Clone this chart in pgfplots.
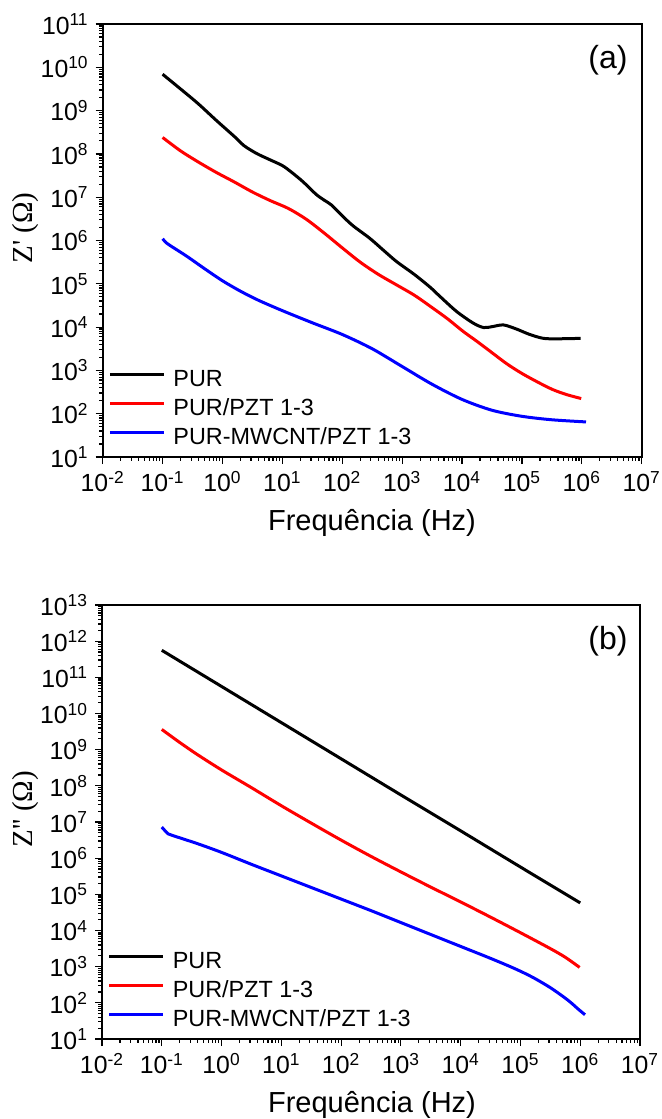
\documentclass[border=0pt]{standalone}
\usepackage{fontspec}
\setmainfont{Liberation Sans}
\newfontfamily\timesfont{Liberation Serif}
\usepackage{pgfplots}
\pgfplotsset{compat=1.18}

% minor ticks 2..9 in every decade
\def\minorlist{1e-3}
\foreach \e in {-2,...,12}{\foreach \m in {2,...,9}{\xdef\minorlist{\minorlist,\m e\e}}}

\pgfplotsset{
  impstyle/.style={
    scale only axis,
    xmin=1e-2, xmax=1e7,
    xtick={1e-2,1e-1,1,1e1,1e2,1e3,1e4,1e5,1e6,1e7},
    minor xtick/.expand once={\minorlist},
    minor ytick/.expand once={\minorlist},
    xticklabel={10\textsuperscript{\pgfmathparse{int(round(\tick/ln(10)))}\pgfmathresult}},
    yticklabel={10\textsuperscript{\pgfmathparse{int(round(\tick/ln(10)))}\pgfmathresult}},
    tick pos=left,
    tick align=outside,
    major tick length=3.5pt,
    minor tick length=1.8pt,
    every tick/.style={black, line width=0.6pt},
    axis line style={line width=0.9pt},
    tick label style={font=\fontsize{12.4}{14}\selectfont},
    legend cell align=left,
    legend style={at={(rel axis cs:0.01,0.2055)}, anchor=north west,
      draw=none, fill=none, inner sep=0pt, row sep=0pt,
      font=\fontsize{11.7}{13}\selectfont,
      nodes={inner sep=0pt, text height=9pt, text depth=5.5pt},
      /tikz/every odd column/.append style={column sep=4pt}},
    legend image code/.code={\draw[##1] (0pt,4.2pt) -- (27pt,4.2pt);},
    every axis plot/.append style={line width=1.5pt, smooth, tension=0.5},
  }
}

\begin{document}
\begin{tikzpicture}
\useasboundingbox (0,0) rectangle (331pt,-559.5pt);

% (a) real part
\begin{axis}[xmode=log, ymode=log, impstyle,
  at={(51.35pt,-228.5pt)}, anchor=south west,
  width=269.5pt, height=216.5pt,
  ymin=1e1, ymax=1e11,
  ytick={1e1,1e2,1e3,1e4,1e5,1e6,1e7,1e8,1e9,1e10,1e11},
]
\addplot[black, no marks] coordinates {
(0.1,6.918e9) (0.1995,3.162e9) (0.389,1.462e9) (0.7943,5.888e8) (1.585,2.512e8)
(2.291,1.549e8) (3.715,1.023e8) (6.31,7.244e7) (10,5.37e7) (14.13,3.802e7)
(22.39,2.239e7) (36.31,1.175e7) (50.12,8.511e6) (66.07,6.607e6) (100,3.715e6)
(151.4,2.188e6) (288.4,1.122e6) (501.2,5.754e5) (812.8,3.236e5) (1585,1.66e5)
(2884,8.511e4) (4266,5.129e4) (8128,2.291e4) (15490,1.23e4) (22910,9.772e3)
(31620,1.023e4) (48980,1.122e4) (79430,9.12e3) (134900,6.761e3) (229100,5.495e3)
(398100,5.37e3) (955000,5.495e3)
};
\addlegendentry{PUR}
\addplot[red, no marks] coordinates {
(0.1,2.399e8) (0.1995,1.175e8) (0.3981,6.457e7) (0.7943,3.715e7) (1.585,2.239e7)
(3.162,1.318e7) (6.31,8.318e6) (12.59,5.495e6) (25.12,3.09e6) (50.12,1.479e6)
(100,6.761e5) (199.5,3.162e5) (398.1,1.66e5) (794.3,9.55e4) (1585,5.495e4)
(2884,3.09e4) (5623,1.585e4) (10470,7.943e3) (17780,4.677e3) (30900,2.63e3)
(56230,1.413e3) (1e5,851.1) (177800,549.5) (323600,363.1) (562300,275.4)
(977200,223.9)
};
\addlegendentry{PUR/PZT 1-3}
\addplot[blue, no marks] coordinates {
(0.1,1.096e6) (0.1148,8.913e5) (0.1349,7.586e5) (0.2512,4.365e5) (0.5012,2.239e5)
(1,1.175e5) (1.995,6.761e4) (3.981,4.169e4) (10,2.399e4) (31.62,1.259e4)
(100,6761) (316.2,3162) (1000,1230) (3162,478.6) (1e4,213.8)
(31620,120.2) (1e5,87.1) (316200,72.44) (1.175e6,64.57)
};
\addlegendentry{PUR-MWCNT/PZT 1-3}
\end{axis}

% (b) imaginary part
\begin{axis}[xmode=log, ymode=log, impstyle,
  at={(51pt,-519.5pt)}, anchor=south west,
  width=269pt, height=217pt,
  ymin=1e1, ymax=1e13,
  ytick={1e1,1e2,1e3,1e4,1e5,1e6,1e7,1e8,1e9,1e10,1e11,1e12,1e13},
]
\addplot[black, no marks] coordinates {
(0.1,5.6e11) (1,5.6e10) (10,5.6e9) (100,5.6e8) (1000,5.6e7)
(1e4,5.7e6) (1e5,5.7e5) (1e6,5.8e4)
};
\addlegendentry{PUR}
\addplot[red, no marks] coordinates {
(0.1,3.631e9) (0.1995,1.585e9) (0.3981,7.244e8) (1,2.754e8) (3.162,8.913e7)
(10,2.818e7) (31.62,9.333e6) (100,3.162e6) (316.2,1.122e6) (1000,4.169e5)
(3162,1.585e5) (1e4,6.166e4) (31620,2.344e4) (1e5,8710) (316200,3162)
(562300,1820) (977200,955)
};
\addlegendentry{PUR/PZT 1-3}
\addplot[blue, no marks] coordinates {
(0.1,7.244e6) (0.123,5.012e6) (0.1445,4.365e6) (0.3981,2.512e6) (1,1.445e6)
(3.162,6.761e5) (10,3.236e5) (31.62,1.549e5) (100,7.413e4) (316.2,3.548e4)
(1000,1.66e4) (3162,7762) (1e4,3631) (31620,1698) (79430,891.3)
(158500,512.9) (316200,263) (562300,134.9) (741300,93.33) (891300,70.79)
(1.202e6,46.77)
};
\addlegendentry{PUR-MWCNT/PZT 1-3}
\end{axis}

% labels
\node[rotate=90, font=\timesfont\fontsize{14.5}{17}\selectfont] at (13pt,-114pt) {Z\textquotesingle\ (Ω)};
\node[rotate=90, font=\timesfont\fontsize{14.5}{17}\selectfont] at (13pt,-404.5pt) {Z\textquotesingle\textquotesingle\ (Ω)};
\node[anchor=base, font=\fontsize{14.5}{17}\selectfont] at (186pt,-265pt) {Frequência (Hz)};
\node[anchor=base, font=\fontsize{14.5}{17}\selectfont] at (186pt,-556pt) {Frequência (Hz)};
\node[font=\fontsize{16}{19}\selectfont] at (304pt,-30pt) {(a)};
\node[font=\fontsize{16}{19}\selectfont] at (304pt,-320.5pt) {(b)};
\end{tikzpicture}
\end{document}
